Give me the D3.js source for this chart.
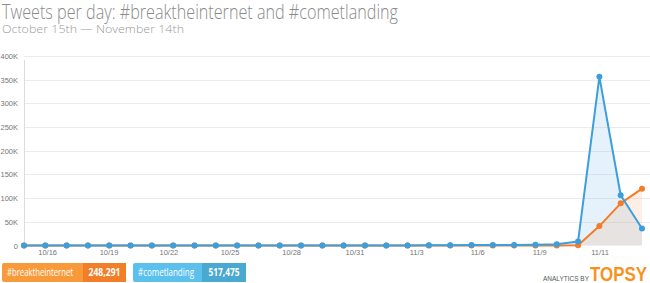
<!DOCTYPE html>
<html><head><meta charset="utf-8">
<script src="https://cdn.jsdelivr.net/npm/d3@7"></script>
<style>body{margin:0;background:#fff}svg{display:block}</style>
</head><body>
<svg id="c" width="650" height="283"></svg>
<script>
const titleText = "Tweets per day: #breaktheinternet and #cometlanding";
const subtitleText = "October 15th \u2014 November 14th";
// day index 0..29
const cometlanding = [0,0,0,0,0,0,0,0,0,0,0,0,0,0,0,0,0,0,0,0.3,0.6,0.8,1,0.8,1.5,2.5,8.5,356,106,36]; // thousands
const breaktheinternet = [0,0,0,0,0,0,0,0,0,0,0,0,0,0,0,0,0,0,0,0,0,0,0,0,0,0,0.3,41,89,120]; // thousands
const tickLabels = ["10/16","10/19","10/22","10/25","10/28","10/31","11/3","11/6","11/9","11/11"];
const tickPos = [1.11,3.99,6.8,9.67,12.56,15.53,18.43,21.29,24.2,27.03];
const yTicks = [0,50,100,150,200,250,300,350,400];
const legendNames = ["#breaktheinternet","#cometlanding"];
const legendTotals = ["248,291","517,475"];

const svg = d3.select("#c");
const x = d3.scaleLinear().domain([0,29]).range([24,642]);
const y = d3.scaleLinear().domain([0,400]).range([245.5,56]);

svg.append("text").attr("x",2).attr("y",19).attr("font-family","'Open Sans',sans-serif")
  .attr("font-weight",300).attr("font-size",20).attr("fill","#8a8a8a")
  .attr("textLength",396).attr("lengthAdjust","spacingAndGlyphs").text(titleText);
svg.append("text").attr("x",2).attr("y",32.5).attr("font-family","'Open Sans',sans-serif")
  .attr("font-weight",300).attr("font-size",11).attr("fill","#9a9a9a")
  .attr("textLength",182).attr("lengthAdjust","spacingAndGlyphs").text(subtitleText);

// grid
svg.append("g").selectAll("line").data(yTicks.slice(1)).join("line")
  .attr("x1",24).attr("x2",650).attr("y1",d=>Math.round(y(d))+0.5).attr("y2",d=>Math.round(y(d))+0.5)
  .attr("stroke","#ececec").attr("stroke-width",1);
// y axis line
svg.append("line").attr("x1",24.5).attr("x2",24.5).attr("y1",60).attr("y2",246).attr("stroke","#dcdcdc");
svg.append("g").selectAll("text").data(yTicks).join("text")
  .attr("x",18).attr("y",d=>y(d)+3).attr("text-anchor","end")
  .attr("font-family","'Liberation Sans',Arial,sans-serif").attr("font-size",7.5).attr("fill","#777")
  .text(d=>d===0?"0":d+"K");
// x ticks
svg.append("g").selectAll("text").data(tickLabels).join("text")
  .attr("x",(d,i)=>x(tickPos[i])).attr("y",255).attr("text-anchor","middle")
  .attr("font-family","'Liberation Sans',Arial,sans-serif").attr("font-size",7.5).attr("fill","#777")
  .text(d=>d);

const area = d3.area().x((d,i)=>x(i)).y0(y(0)).y1(d=>y(d));
const line = d3.line().x((d,i)=>x(i)).y(d=>y(d));
const blue = "#3c9fdc", orange = "#f47b28";

svg.append("path").datum(cometlanding).attr("d",area).attr("fill","rgba(110,180,235,0.18)");
svg.append("path").datum(breaktheinternet).attr("d",area).attr("fill","rgba(240,140,70,0.14)");

function series(data,color){
  svg.append("path").datum(data).attr("d",line).attr("fill","none").attr("stroke",color).attr("stroke-width",2).attr("stroke-linejoin","round");
  svg.append("g").selectAll("circle").data(data).join("circle")
    .attr("cx",(d,i)=>x(i)).attr("cy",d=>y(d)).attr("r",3).attr("fill",color);
}
series(breaktheinternet,orange);
series(cometlanding,blue);

// legend
const leg = [
  {x0:2,split:83,x1:126,c1:"#f89a3a",c2:"#f27e27",nw:66,tw:32},
  {x0:133,split:202,x1:246,c1:"#5bc1ec",c2:"#4aa9d0",nw:56,tw:31}
];
leg.forEach((l,i)=>{
  svg.append("rect").attr("x",l.x0).attr("y",263).attr("width",l.x1-l.x0).attr("height",19).attr("rx",2).attr("fill",l.c1);
  svg.append("rect").attr("x",l.split).attr("y",263).attr("width",l.x1-l.split).attr("height",19).attr("fill",l.c2);
  svg.append("rect").attr("x",l.x1-3).attr("y",263).attr("width",3).attr("height",19).attr("rx",2).attr("fill",l.c2);
  svg.append("text").attr("x",l.x0+5).attr("y",276).attr("font-family","'Open Sans',sans-serif").attr("font-size",10)
    .attr("fill","#fff").attr("textLength",l.nw).attr("lengthAdjust","spacingAndGlyphs").text(legendNames[i]);
  svg.append("text").attr("x",(l.split+l.x1)/2 - l.tw/2).attr("y",276).attr("font-family","'Open Sans',sans-serif")
    .attr("font-size",10).attr("font-weight","bold").attr("fill","#fff")
    .attr("textLength",l.tw).attr("lengthAdjust","spacingAndGlyphs").text(legendTotals[i]);
});

// logo
svg.append("text").attr("x",543).attr("y",280.5).attr("font-family","'Liberation Sans',Arial,sans-serif").attr("font-size",7)
  .attr("fill","#555").attr("textLength",46).attr("lengthAdjust","spacingAndGlyphs").text("ANALYTICS BY");
svg.append("text").attr("x",590).attr("y",281).attr("font-family","'Liberation Sans',Arial,sans-serif").attr("font-size",20)
  .attr("font-weight","bold").attr("fill","#f7921e").attr("textLength",57).attr("lengthAdjust","spacingAndGlyphs").text("TOPSY");
</script>
</body></html>
